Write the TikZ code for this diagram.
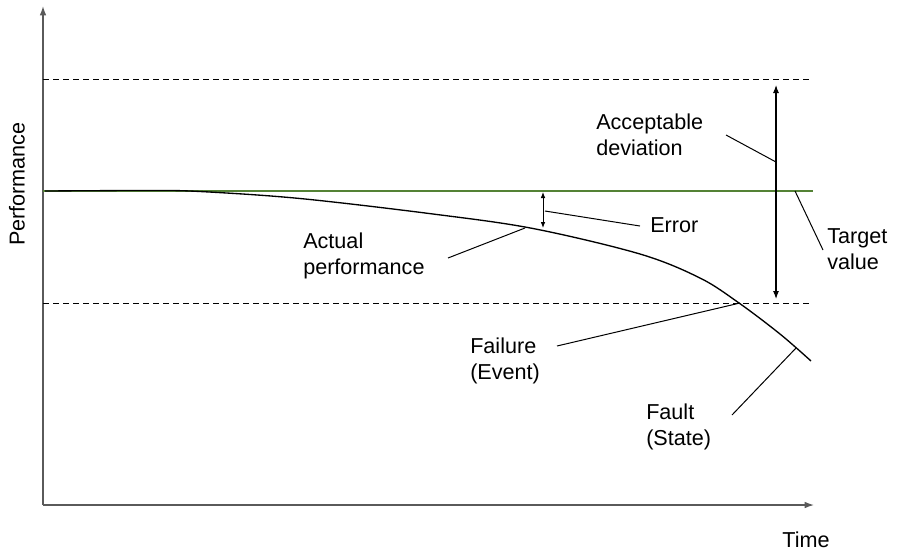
\documentclass[tikz,border=0pt]{standalone}
\usepackage{fontspec}
\setmainfont{Liberation Sans}
\usetikzlibrary{arrows.meta}
\definecolor{targetgreen}{RGB}{84,130,53}
\definecolor{axisgray}{RGB}{90,90,90}
\begin{document}
\begin{tikzpicture}[x=0.75pt,y=-0.75pt,
  axis/.style={draw=axisgray,line width=1pt,-{Latex[length=7pt,width=5pt]}},
  limit/.style={draw=black,line width=0.75pt,dash pattern=on 4.5pt off 3pt},
  leader/.style={draw=black,line width=0.75pt},
  span/.style={draw=black,line width=0.8pt,{Latex[length=6pt,width=4.5pt]}-{Latex[length=6pt,width=4.5pt]}},
  label/.style={font=\fontsize{16.2pt}{19.5pt}\selectfont,inner sep=0pt,align=left,anchor=west}]
\useasboundingbox (0,0) rectangle (899,551);

% axes
\coordinate (origin) at (43,505);
\coordinate (ytop) at (43,6);
\coordinate (xend) at (814,505);
\draw[axis] (origin) -- (ytop);
\draw[axis] (origin) -- (xend);
\node[font=\fontsize{16.2pt}{19.5pt}\selectfont,inner sep=0pt,rotate=90] (perf) at (17,184) {Performance};
\node[font=\fontsize{16.2pt}{19.5pt}\selectfont,inner sep=0pt] (time) at (806,540) {Time};

% tolerance band and target value
\coordinate (upL) at (43,79);  \coordinate (upR) at (812,79);
\coordinate (loL) at (43,303); \coordinate (loR) at (812,303);
\coordinate (tgL) at (43,191); \coordinate (tgR) at (813,191);
\draw[limit] (upL) -- (upR);
\draw[limit] (loL) -- (loR);
\draw[targetgreen,line width=0.9pt] (tgL) -- (tgR);

% actual performance curve
\draw[black,line width=1pt] plot[smooth,tension=0.55] coordinates
  {(45,191) (150,190.5) (200,191.5) (300,198.5) (433,214) (533,228.5)
   (640,254) (700,278) (739,303) (780,334) (811,361)};

% deviation span and error span
\coordinate (devT) at (776,85);  \coordinate (devB) at (776,299);
\draw[span] (devT) -- (devB);
\coordinate (errT) at (543,192); \coordinate (errB) at (543,228);
\draw[span,{Latex[length=4.5pt,width=3.5pt]}-{Latex[length=4.5pt,width=3.5pt]},line width=0.75pt] (errT) -- (errB);

% labels
\node[label] (accdev) at (596,135) {Acceptable\\deviation};
\node[label] (target) at (827,249) {Target\\value};
\node[label] (error) at (650,225) {Error};
\node[label] (actual) at (303,256) {Actual\\performance};
\node[label] (failure) at (470,361) {Failure\\(Event)};
\node[label] (fault) at (646,427) {Fault\\(State)};

% leader lines
\coordinate (a1) at (726,135); \coordinate (a2) at (776,162);
\draw[leader] (a1) -- (a2);
\coordinate (t1) at (795,191); \coordinate (t2) at (823,250);
\draw[leader] (t1) -- (t2);
\coordinate (e1) at (545,211); \coordinate (e2) at (640,226);
\draw[leader] (e1) -- (e2);
\coordinate (p1) at (525,228); \coordinate (p2) at (448,258);
\draw[leader] (p1) -- (p2);
\coordinate (f1) at (740,303); \coordinate (f2) at (557,346);
\draw[leader] (f1) -- (f2);
\coordinate (s1) at (796,348); \coordinate (s2) at (732,415);
\draw[leader] (s1) -- (s2);
\end{tikzpicture}
\end{document}
